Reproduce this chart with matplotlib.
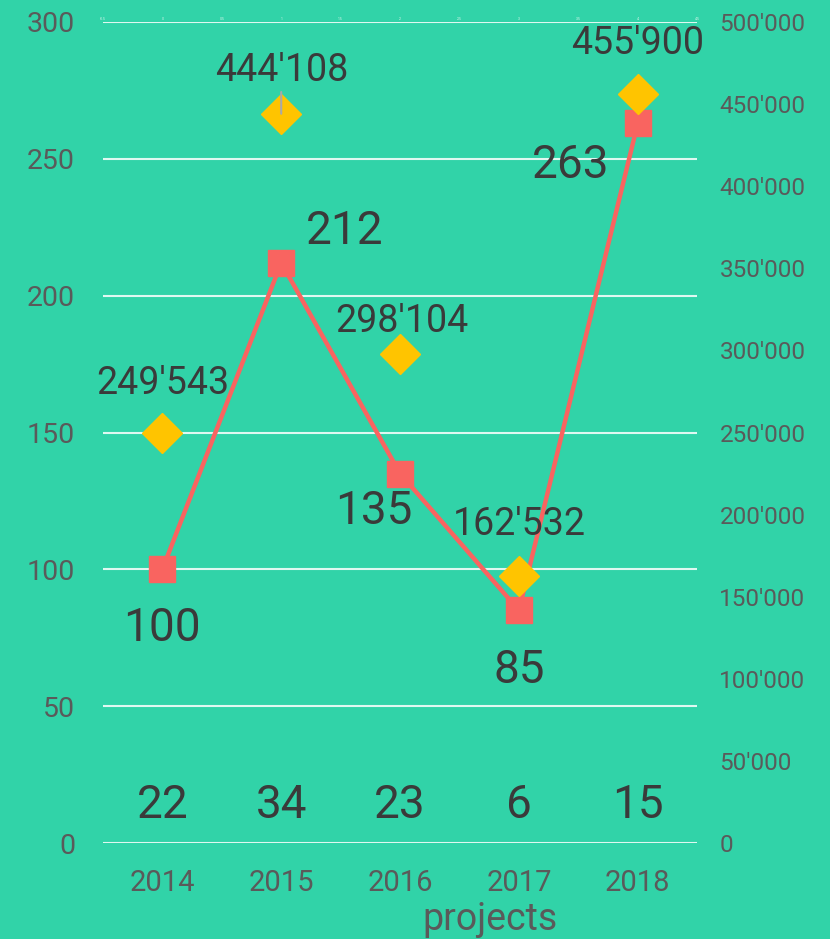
import numpy as np
import matplotlib.pyplot as plt
from matplotlib.ticker import FuncFormatter

plt.rcParams['font.family'] = ['Roboto', 'DejaVu Sans']

# data
years = ['2014', '2015', '2016', '2017', '2018']
count = [100, 212, 135, 85, 263]             # left axis, red line
amount = [249543, 444108, 298104, 162532, 455900]  # right axis, yellow diamonds
projects = [22, 34, 23, 6, 15]

bg = '#31d3a8'
red = '#f96460'
yellow = '#ffc400'
dark = '#3a3a3a'
grey = '#5a5a5a'

# label offsets in points
red_off = [(0, -42), (46, 23), (-19, -27), (0, -43), (-48, -30)]
yel_off = [(0, 36), (0, 31), (1, 23), (0, 37), (0, 37)]


def fmt_thousands(v, pos=None):
    return f"{int(round(v)):,}".replace(',', "'")


fig = plt.figure(figsize=(8.3, 9.39), dpi=100, facecolor=bg)
ax = fig.add_axes([0.124, 0.1022, 0.716, 0.8744])
ax.set_facecolor(bg)
x = np.arange(len(years))

ax.plot(x, count, color=red, lw=3.2, marker='s', markersize=19, zorder=3)
ax.set_ylim(0, 300)
ax.set_xlim(-0.5, len(years) - 0.5)
ax.set_yticks(np.arange(0, 301, 50))
ax.set_xticks(x)
ax.set_xticklabels(years)
ax.grid(axis='y', color='white', lw=1.5, alpha=0.85)
ax.set_axisbelow(True)
for s in ax.spines.values():
    s.set_visible(False)
ax.tick_params(axis='x', length=0, pad=19, labelsize=21, labelcolor=grey)
ax.tick_params(axis='y', length=0, pad=20, labelsize=20.5, labelcolor=grey)

for xi, v, off in zip(x, count, red_off):
    ax.annotate(str(v), (xi, v), xytext=off, textcoords='offset points',
                ha='center', va='center', fontsize=33, color=dark)

for xi, v in zip(x, projects):
    ax.text(xi, 14, str(v), ha='center', va='center', fontsize=33, color=dark)

ax.set_xlabel('projects', fontsize=27, color=grey)
ax.xaxis.set_label_coords(0.6515, -0.071)

ax2 = ax.twinx()
ax2.plot(x, amount, ls='none', marker='D', markersize=20, color=yellow, zorder=4)
ax2.set_ylim(0, 500000)
ax2.set_yticks(np.arange(0, 500001, 50000))
ax2.yaxis.set_major_formatter(FuncFormatter(fmt_thousands))
for s in ax2.spines.values():
    s.set_visible(False)
ax2.tick_params(axis='y', length=0, pad=16, labelsize=17.5, labelcolor=grey)

for i, (xi, v, off) in enumerate(zip(x, amount, yel_off)):
    arrow = dict(arrowstyle='-', color='#a8a8a8', lw=1.5, shrinkA=0, shrinkB=0) if i == 1 else None
    ax2.annotate(fmt_thousands(v), (xi, v), xytext=off, textcoords='offset points',
                 ha='center', va='center', fontsize=27, color=dark, arrowprops=arrow,
                 zorder=5)

# faint tiny ticks along the top
ax3 = ax.twiny()
ax3.set_xlim(ax.get_xlim())
top_ticks = np.arange(-0.5, len(years), 0.5)
ax3.set_xticks(top_ticks)
ax3.set_xticklabels([f"{t:g}" for t in top_ticks])
ax3.tick_params(axis='x', length=0, pad=1, labelsize=2.5, labelcolor='#d8f5ec')
for s in ax3.spines.values():
    s.set_visible(False)

fig.savefig('out.png', dpi=100, facecolor=bg)
